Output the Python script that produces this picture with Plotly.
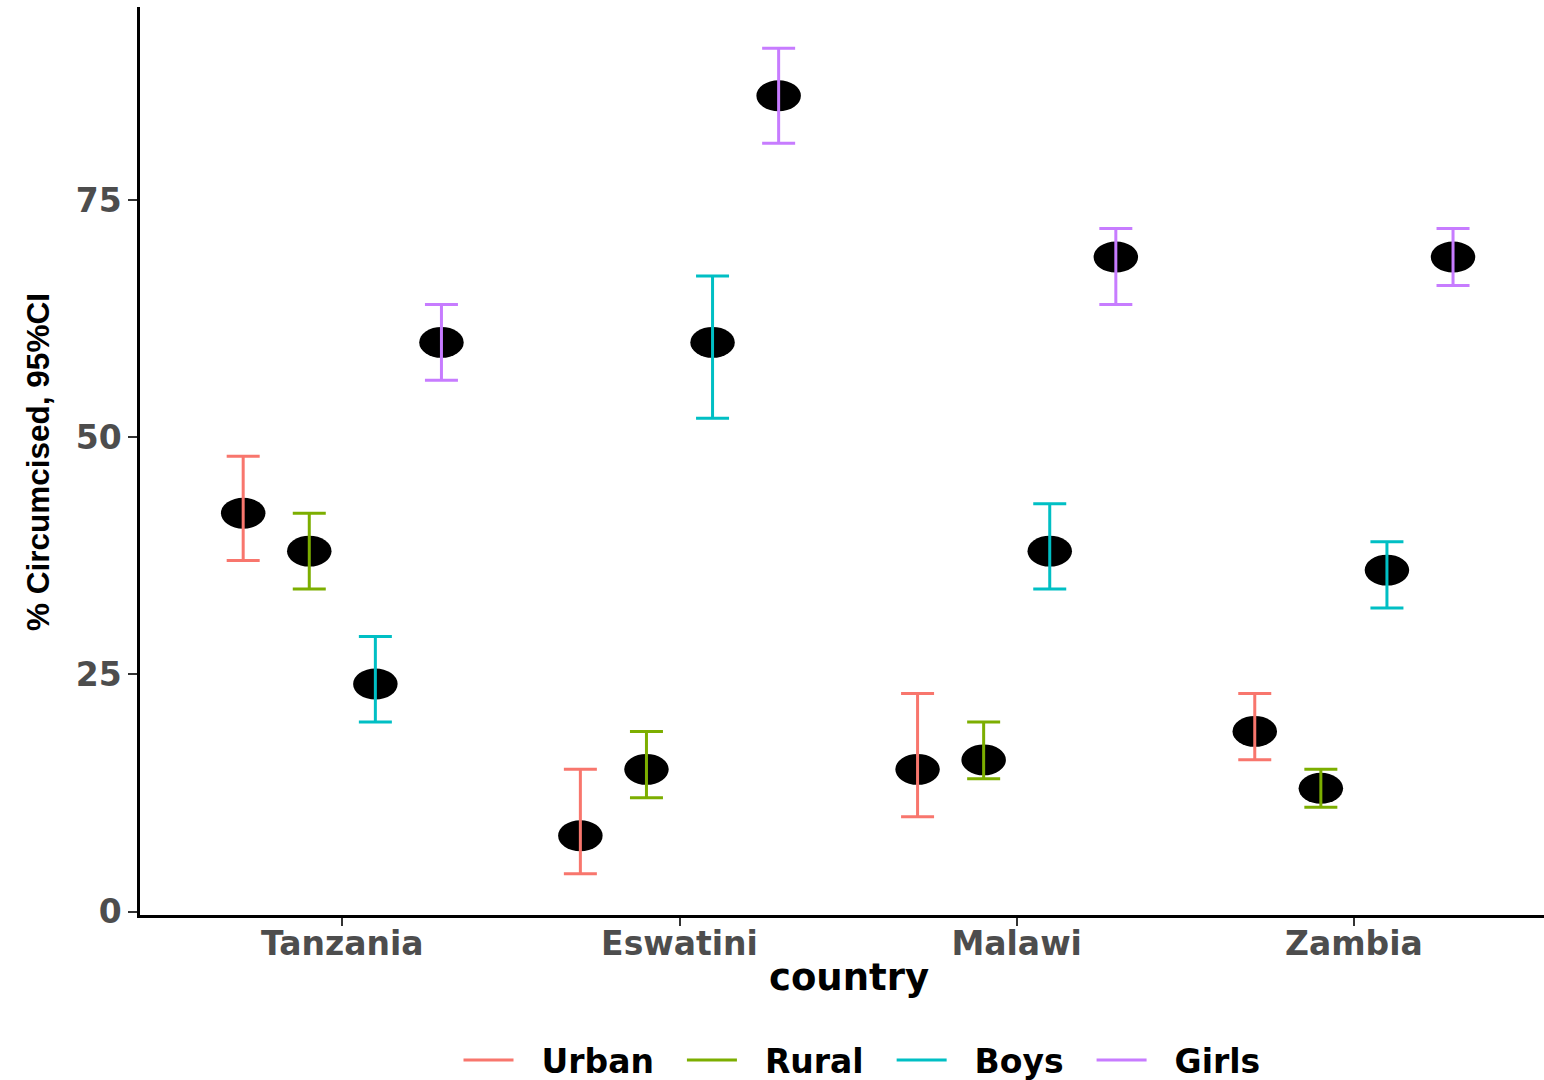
import plotly.graph_objects as go

countries = ["Tanzania", "Eswatini", "Malawi", "Zambia"]
groups = ["Urban", "Rural", "Boys", "Girls"]
colors = ["#F8766D", "#7CAE00", "#00BFC4", "#C77CFF"]

estimate = {
    "Urban": [42, 8, 15, 19],
    "Rural": [38, 15, 16, 13],
    "Boys":  [24, 60, 38, 36],
    "Girls": [60, 86, 69, 69],
}
lower = {
    "Urban": [37, 4, 10, 16],
    "Rural": [34, 12, 14, 11],
    "Boys":  [20, 52, 34, 32],
    "Girls": [56, 81, 64, 66],
}
upper = {
    "Urban": [48, 15, 23, 23],
    "Rural": [42, 19, 20, 15],
    "Boys":  [29, 67, 43, 39],
    "Girls": [64, 91, 72, 72],
}

y_ticks = [0, 25, 50, 75]

dodge = [-0.294, -0.098, 0.098, 0.294]
ell_w = 0.066   # half width in category units
ell_h = 1.63    # half height in data units

NB = "\u00a0"

fig = go.Figure()
shapes = []
for gi, g in enumerate(groups):
    xs = [ci + 1 + dodge[gi] for ci in range(len(countries))]
    ys = estimate[g]
    for x, y in zip(xs, ys):
        shapes.append(dict(type="circle", xref="x", yref="y",
                           x0=x - ell_w, x1=x + ell_w, y0=y - ell_h, y1=y + ell_h,
                           fillcolor="black", line=dict(width=0), layer="below"))
    fig.add_trace(go.Scatter(
        x=xs, y=ys, mode="markers",
        marker=dict(size=1, color="rgba(0,0,0,0)"),
        error_y=dict(type="data", symmetric=False,
                     array=[u - e for u, e in zip(upper[g], ys)],
                     arrayminus=[e - l for e, l in zip(ys, lower[g])],
                     color=colors[gi], thickness=3, width=16.5),
        showlegend=False, hoverinfo="skip"))
    label = NB * 2 + g + (NB * 2 if gi < len(groups) - 1 else "")
    fig.add_trace(go.Scatter(x=[None], y=[None], mode="lines", name=label,
                             line=dict(color=colors[gi], width=3)))

W, H = 1544, 1080
ml, mr, mt, mb = 140, 0, 7, 165
pw, ph = W - ml - mr, H - mt - mb

fig.update_layout(
    width=W, height=H,
    margin=dict(l=ml, r=mr, t=mt, b=mb, autoexpand=False),
    paper_bgcolor="white", plot_bgcolor="white",
    shapes=shapes,
    showlegend=True,
    legend=dict(orientation="h", x=(862 - ml) / pw, xanchor="center",
                y=(H - mb - 1060) / ph, yanchor="middle",
                font=dict(family="DejaVu Sans", size=33, color="black", weight="bold"),
                itemwidth=50, traceorder="normal"),
    xaxis=dict(
        range=[0.4, 4 + (W - mr - 1354) / 337.0],
        tickmode="array", tickvals=[1, 2, 3, 4], ticktext=countries,
        showgrid=False, zeroline=False,
        showline=True, linecolor="black", linewidth=2.5,
        ticks="outside", ticklen=8, tickwidth=2, tickcolor="#333333",
        ticklabelstandoff=-10,
        tickfont=dict(family="DejaVu Sans", size=33, color="#4D4D4D", weight="bold"),
    ),
    yaxis=dict(
        range=[-0.35, 95.35],
        tickmode="array", tickvals=y_ticks, ticktext=[str(t) for t in y_ticks],
        showgrid=False, zeroline=False,
        showline=True, linecolor="black", linewidth=2.5,
        ticks="outside", ticklen=9, tickwidth=2, tickcolor="#333333",
        tickfont=dict(family="DejaVu Sans", size=33, color="#4D4D4D", weight="bold"),
    ),
    annotations=[
        dict(text="country", xref="paper", yref="paper",
             x=(849 - ml) / pw, y=(H - mb - 978) / ph, xanchor="center", yanchor="middle",
             showarrow=False,
             font=dict(family="DejaVu Sans", size=37, color="black", weight="bold")),
        dict(text="% Circumcised, 95%CI", xref="paper", yref="paper",
             x=(38 - ml) / pw, y=(H - mb - 462) / ph, xanchor="center", yanchor="middle",
             textangle=-90, showarrow=False,
             font=dict(family="Liberation Sans", size=31.5, color="black", weight="bold")),
    ],
)

fig.write_html("out.html", config={"displayModeBar": False},
               post_script="document.body.style.margin='0';document.body.style.overflow='hidden';")
